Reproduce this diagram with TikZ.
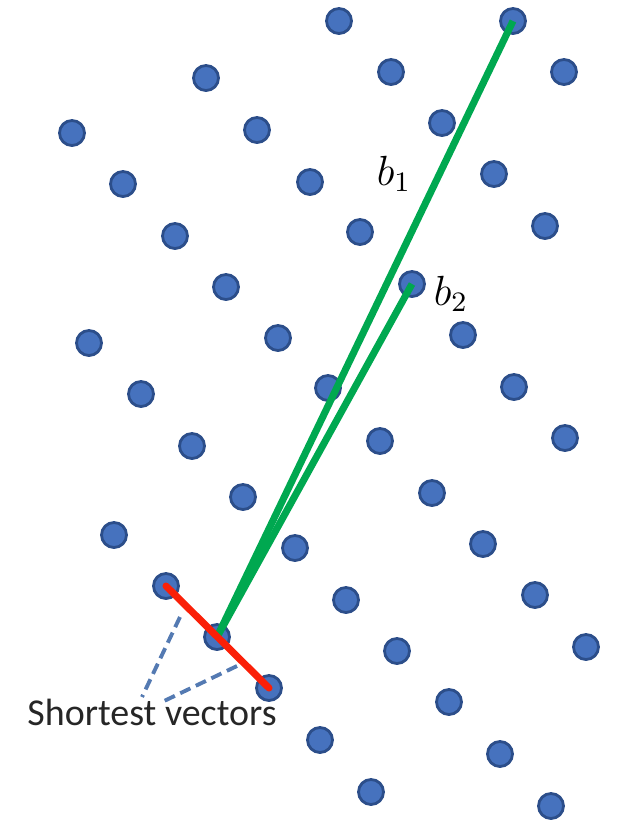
\documentclass[tikz,border=0pt]{standalone}
\usepackage{fontspec}
\newfontfamily\lblfont{Carlito}
\usetikzlibrary{calc}

\definecolor{dotfill}{RGB}{70,114,190}
\definecolor{dotedge}{RGB}{44,78,138}
\definecolor{basisgreen}{RGB}{0,168,80}
\definecolor{shortred}{RGB}{250,32,8}
\definecolor{hintblue}{RGB}{84,122,178}

\begin{document}
\begin{tikzpicture}[
    x=0.01cm, y=-0.01cm,
    dot/.style={circle, draw=dotedge, fill=dotfill, line width=0.8pt,
                minimum size=0.25cm, inner sep=0pt},
    basis/.style={draw=basisgreen, line width=2pt},
    shortvec/.style={draw=shortred, line width=2pt, line cap=round},
    hint/.style={draw=hintblue, line width=1.1pt, dash pattern=on 3.2pt off 1.7pt},
    veclbl/.style={font=\fontsize{12}{14}\selectfont},
]
    \useasboundingbox (0,0) rectangle (618,820);

    %==================== LATTICE POINTS ====================
    \foreach \px/\py [count=\i] in {
        339/21, 206/78, 391/72, 564/72, 72/133, 257/130, 442/123,
        123/184, 310/182, 494/174, 175/236, 360/232, 545/226,
        226/287, 89/343, 278/338, 463/335, 141/394, 328/388, 514/387,
        192/446, 380/441, 565/438, 243/497, 432/493, 114/535, 295/548,
        483/544, 346/600, 535/595, 397/651, 586/647, 449/702,
        320/740, 500/754, 371/792, 551/806}
        \node[dot] (pt\i) at (\px,\py) {};

    %==================== SPECIAL POINTS ====================
    \node[dot] (orig)   at (217,637) {};
    \node[dot] (tipone) at (513,21)  {};
    \node[dot] (tiptwo) at (412,284) {};
    \node[dot] (shorta) at (166,586) {};
    \node[dot] (shortb) at (269,688) {};

    %==================== BASIS b1, b2 ====================
    \draw[basis] (orig.center) -- (tipone.center);
    \draw[basis] (orig.center) -- (tiptwo.center);
    \node[veclbl] (lblone) at (394,174) {$b_1$};
    \node[veclbl] (lbltwo) at (451,294) {$b_2$};

    %==================== SHORTEST VECTORS ====================
    \draw[shortvec] (shorta.center) -- (shortb.center);

    \node[font=\lblfont\fontsize{10.8}{13}\selectfont, text=black!85, anchor=base]
        (shortlbl) at (152,725) {Shortest vectors};

    \coordinate (hinta) at (180,617);
    \coordinate (hintb) at (237,666);
    \coordinate (hintc) at (142,697);
    \coordinate (hintd) at (162,702);
    \draw[hint] (hinta) -- (hintc);
    \draw[hint] (hintb) -- (hintd);

\end{tikzpicture}
\end{document}
